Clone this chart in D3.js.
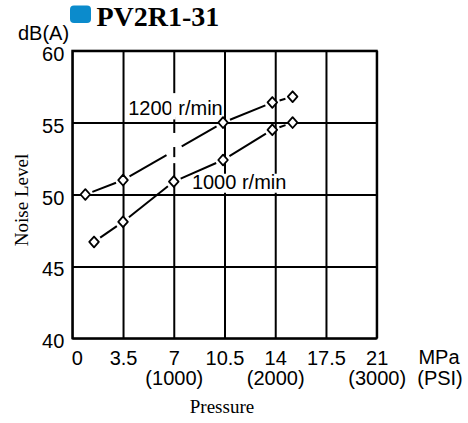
<!DOCTYPE html>
<html>
<head>
<meta charset="utf-8">
<script src="https://cdn.jsdelivr.net/npm/d3@7"></script>
<style>
  body { margin: 0; background: #fff; }
  .tick line { stroke: #000; }
</style>
</head>
<body>
<div id="chart"></div>
<script>
// chart data
var pressureTicks = [0, 3.5, 7, 10.5, 14, 17.5, 21];
var psiTicks = [7, 14, 21];
var psiLabels = ["(1000)", "(2000)", "(3000)"];
var noiseTicks = [40, 45, 50, 55, 60];

var seriesNames = ["1200 r/min", "1000 r/min"];
var pressure1200 = [0.9, 3.5, 10.4, 13.8, 15.2];
var noise1200 = [50.0, 51.0, 55.0, 56.4, 56.8];
var pressure1000 = [1.5, 3.5, 7, 10.4, 13.8, 15.2];
var noise1000 = [46.7, 48.1, 50.9, 52.4, 54.5, 55.0];

// where the curve label sits (data units) and where the drawn line is broken
var labelAt = [[3.86, 55.5], [8.25, 50.4]];
var lineBreaks = [[6.5, 7.55], null];
var gridBreaks = [[7, 55.4, 57.05], [7, 53.3, 54.28], [7, 52.18, 52.6]];

var width = 468, height = 423;
var plotLeft = 72.3, plotRight = 376.7, plotTop = 50.7, plotBottom = 338.3;

var svg = d3.select("#chart").append("svg")
    .attr("width", width)
    .attr("height", height);

var x = d3.scaleLinear().domain([0, 21]).range([plotLeft, plotRight]);
var y = d3.scaleLinear().domain([40, 60]).range([plotBottom, plotTop]);

var sans = "'Liberation Sans', Arial, sans-serif";
var serif = "'Liberation Serif', 'Times New Roman', serif";
var fs = 20;

// grid lines
svg.append("g")
    .attr("transform", "translate(0," + plotBottom + ")")
    .call(d3.axisBottom(x).tickValues(pressureTicks).tickSize(-(plotBottom - plotTop)).tickFormat(""))
    .call(function(g) { g.select(".domain").remove(); })
    .selectAll("line").attr("stroke-width", 2);

svg.append("g")
    .attr("transform", "translate(" + plotLeft + ",0)")
    .call(d3.axisLeft(y).tickValues(noiseTicks).tickSize(-(plotRight - plotLeft)).tickFormat(""))
    .call(function(g) { g.select(".domain").remove(); })
    .selectAll("line").attr("stroke-width", 2);

svg.append("rect")
    .attr("x", plotLeft).attr("y", plotTop)
    .attr("width", plotRight - plotLeft).attr("height", plotBottom - plotTop)
    .attr("fill", "none").attr("stroke", "#000").attr("stroke-width", 2);

// tick labels
var yAxis = svg.append("g")
    .attr("transform", "translate(" + plotLeft + ",0)")
    .call(d3.axisLeft(y).tickValues(noiseTicks).tickSize(0).tickPadding(8));
yAxis.select(".domain").remove();
yAxis.selectAll("text")
    .attr("font-family", sans).attr("font-size", fs)
    .attr("dy", 9.5).attr("fill", "#000");

var xAxis = svg.append("g")
    .attr("transform", "translate(0," + plotBottom + ")")
    .call(d3.axisBottom(x).tickValues(pressureTicks).tickSize(0).tickPadding(8)
        .tickFormat(function(d) { return String(d); }));
xAxis.select(".domain").remove();
xAxis.selectAll("text")
    .attr("font-family", sans).attr("font-size", fs)
    .attr("dy", 18.5).attr("fill", "#000")
    .attr("text-anchor", function(d) { return d === 0 ? "start" : "middle"; })
    .attr("x", function(d) { return d === 0 ? -1 : 0; });

var psiAxis = svg.append("g")
    .attr("transform", "translate(0," + (plotBottom + 20) + ")")
    .call(d3.axisBottom(x).tickValues(psiTicks).tickSize(0).tickPadding(8)
        .tickFormat(function(d, i) { return psiLabels[i]; }));
psiAxis.select(".domain").remove();
psiAxis.selectAll("text")
    .attr("font-family", sans).attr("font-size", fs)
    .attr("dy", 18.5).attr("fill", "#000");

svg.append("text").attr("x", 439).attr("y", 364)
    .attr("text-anchor", "middle").attr("font-family", sans).attr("font-size", fs)
    .text("MPa");
svg.append("text").attr("x", 440).attr("y", 385)
    .attr("text-anchor", "middle").attr("font-family", sans).attr("font-size", fs)
    .text("(PSI)");
svg.append("text").attr("x", 18).attr("y", 40)
    .attr("font-family", sans).attr("font-size", fs)
    .text("dB(A)");

// axis titles
svg.append("text")
    .attr("transform", "translate(28,200) rotate(-90)")
    .attr("text-anchor", "middle").attr("font-family", serif).attr("font-size", 19)
    .text("Noise Level");
svg.append("text").attr("x", 222).attr("y", 413)
    .attr("text-anchor", "middle").attr("font-family", serif).attr("font-size", 19)
    .text("Pressure");

// title with blue badge
svg.append("rect").attr("x", 70).attr("y", 5.5).attr("width", 21).attr("height", 17.5)
    .attr("rx", 4).attr("fill", "#0b8bcc");
svg.append("text").attr("x", 96.5).attr("y", 26)
    .attr("font-family", serif).attr("font-size", 28).attr("font-weight", "bold")
    .text("PV2R1-31");

// curve labels with white backing
var series = [
  d3.zip(pressure1200, noise1200),
  d3.zip(pressure1000, noise1000)
];

series.forEach(function(pts, si) {
  var t = svg.append("text")
      .attr("x", x(labelAt[si][0])).attr("y", y(labelAt[si][1]))
      .attr("font-family", sans).attr("font-size", fs)
      .text(seriesNames[si]);
  var b = t.node().getBBox();
  var bg = svg.insert("rect", function() { return t.node(); })
      .attr("fill", "#fff")
      .attr("y", b.y + 3).attr("height", b.height - 3);
  if (si === 0) {
    bg.attr("x", b.x).attr("width", x(7) + 2 - b.x);
  } else {
    bg.attr("x", b.x - 2).attr("width", b.width + 4);
  }
});

// broken segments between markers
var gap = 7.5;
var lines = svg.append("g");
series.forEach(function(pts, si) {
  for (var i = 0; i < pts.length - 1; i++) {
    var x0 = x(pts[i][0]), y0 = y(pts[i][1]);
    var x1 = x(pts[i + 1][0]), y1 = y(pts[i + 1][1]);
    var len = Math.hypot(x1 - x0, y1 - y0);
    var ux = (x1 - x0) / len, uy = (y1 - y0) / len;
    var pieces = [[gap, len - gap]];
    var br = lineBreaks[si];
    if (br && pts[i][0] < br[0] && pts[i + 1][0] > br[1]) {
      var a = (x(br[0]) - x0) / ux, c = (x(br[1]) - x0) / ux;
      pieces = [[gap, a], [c, len - gap]];
    }
    pieces.forEach(function(p) {
      if (p[1] <= p[0]) return;
      lines.append("line")
          .attr("x1", x0 + ux * p[0]).attr("y1", y0 + uy * p[0])
          .attr("x2", x0 + ux * p[1]).attr("y2", y0 + uy * p[1])
          .attr("stroke", "#000").attr("stroke-width", 2);
    });
  }
});

// white breaks in the grid
svg.append("g").selectAll("rect")
    .data(gridBreaks)
  .enter().append("rect")
    .attr("x", function(d) { return x(d[0]) - 2.5; })
    .attr("width", 5)
    .attr("y", function(d) { return y(d[2]); })
    .attr("height", function(d) { return y(d[1]) - y(d[2]); })
    .attr("fill", "#fff");

// diamond markers
var diamond = function(w, h) {
  return "M0," + (-h) + "L" + w + ",0L0," + h + "L" + (-w) + ",0Z";
};
series.forEach(function(pts) {
  svg.append("g").selectAll("path")
      .data(pts)
    .enter().append("path")
      .attr("transform", function(d) { return "translate(" + x(d[0]) + "," + y(d[1]) + ")"; })
      .attr("d", diamond(4.8, 5.4))
      .attr("fill", "#fff")
      .attr("stroke", "#000")
      .attr("stroke-width", 1.8)
      .attr("stroke-linejoin", "round");
});
</script>
</body>
</html>
